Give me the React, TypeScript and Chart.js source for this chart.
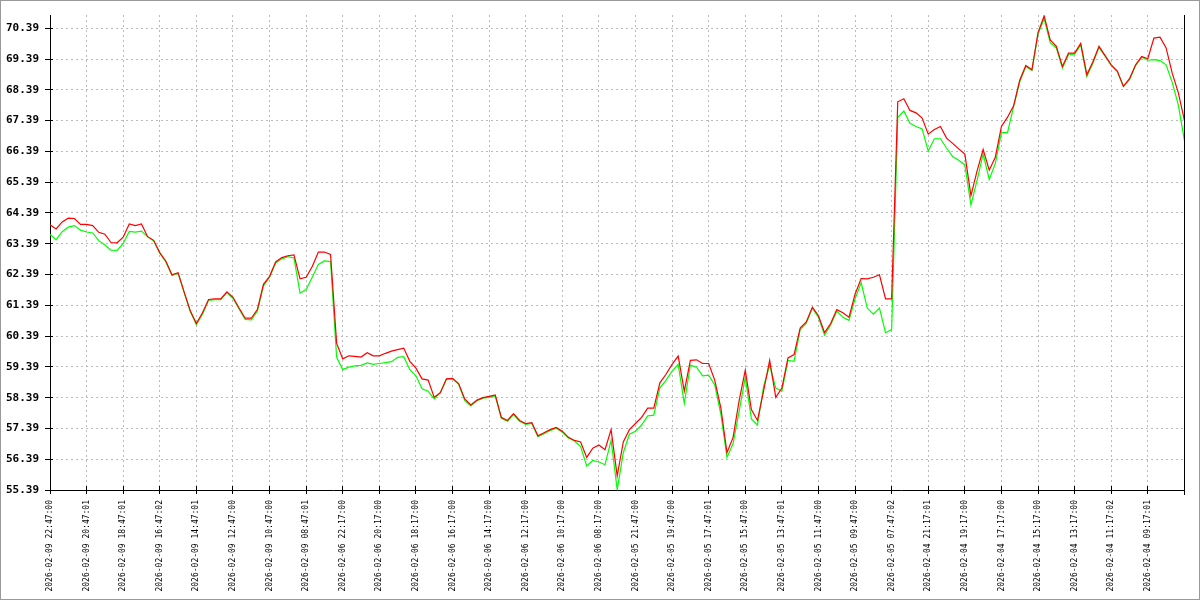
import React, { useEffect, useRef } from "react";
import { Chart, registerables } from "chart.js";

Chart.register(...registerables);

// X tick labels (one every POINTS_PER_TICK samples)
const xTickLabels: string[] = [
  "2026-02-09 22:47:00", "2026-02-09 20:47:01", "2026-02-09 18:47:01", "2026-02-09 16:47:02",
  "2026-02-09 14:47:01", "2026-02-09 12:47:00", "2026-02-09 10:47:00", "2026-02-09 08:47:01",
  "2026-02-06 22:17:00", "2026-02-06 20:17:00", "2026-02-06 18:17:00", "2026-02-06 16:17:00",
  "2026-02-06 14:17:00", "2026-02-06 12:17:00", "2026-02-06 10:17:00", "2026-02-06 08:17:00",
  "2026-02-05 21:47:00", "2026-02-05 19:47:00", "2026-02-05 17:47:01", "2026-02-05 15:47:00",
  "2026-02-05 13:47:01", "2026-02-05 11:47:00", "2026-02-05 09:47:00", "2026-02-05 07:47:02",
  "2026-02-04 21:17:01", "2026-02-04 19:17:00", "2026-02-04 17:17:00", "2026-02-04 15:17:00",
  "2026-02-04 13:17:00", "2026-02-04 11:17:02", "2026-02-04 09:17:01",
];
const POINTS_PER_TICK = 6;

const yTickValues: number[] = [
  55.39, 56.39, 57.39, 58.39, 59.39, 60.39, 61.39, 62.39,
  63.39, 64.39, 65.39, 66.39, 67.39, 68.39, 69.39, 70.39,
];
const Y_MIN = 55.39;
const Y_MAX = 70.82;

const redSeries: number[] = [
  64.01, 63.87, 64.10, 64.22, 64.21, 64.02, 64.02, 63.98, 63.76, 63.70,
  63.43, 63.42, 63.60, 64.03, 63.98, 64.03, 63.62, 63.50, 63.10, 62.82,
  62.38, 62.45, 61.82, 61.21, 60.80, 61.15, 61.58, 61.60, 61.60, 61.83,
  61.65, 61.30, 60.97, 60.97, 61.25, 62.07, 62.33, 62.80, 62.94, 63.00,
  63.03, 62.25, 62.30, 62.65, 63.12, 63.12, 63.04, 60.15, 59.65, 59.75,
  59.73, 59.71, 59.85, 59.75, 59.75, 59.83, 59.90, 59.95, 60.00, 59.57,
  59.35, 59.00, 58.96, 58.40, 58.55, 59.00, 59.02, 58.85, 58.35, 58.15,
  58.31, 58.39, 58.43, 58.48, 57.75, 57.65, 57.87, 57.65, 57.55, 57.58,
  57.15, 57.25, 57.35, 57.42, 57.30, 57.10, 57.00, 56.95, 56.45, 56.75,
  56.85, 56.70, 57.35, 55.85, 56.95, 57.35, 57.55, 57.75, 58.05, 58.05,
  58.87, 59.15, 59.47, 59.74, 58.60, 59.60, 59.62, 59.50, 59.50, 58.95,
  58.05, 56.60, 57.10, 58.30, 59.28, 58.00, 57.65, 58.60, 59.60, 58.40,
  58.70, 59.68, 59.79, 60.65, 60.85, 61.33, 61.05, 60.50, 60.80, 61.25,
  61.15, 61.00, 61.75, 62.26, 62.25, 62.30, 62.38, 61.60, 61.60, 68.00,
  68.10, 67.72, 67.64, 67.47, 66.95, 67.10, 67.20, 66.82, 66.65, 66.47,
  66.30, 64.95, 65.75, 66.45, 65.78, 66.20, 67.20, 67.50, 67.87, 68.70,
  69.18, 69.04, 70.25, 70.79, 70.01, 69.80, 69.15, 69.58, 69.58, 69.90,
  68.88, 69.30, 69.80, 69.50, 69.20, 69.00, 68.50, 68.75, 69.20, 69.47,
  69.40, 70.07, 70.10, 69.75, 68.93, 68.30, 67.40,
];

const greenSeries: number[] = [
  63.69, 63.52, 63.78, 63.93, 63.98, 63.83, 63.77, 63.74, 63.49, 63.35,
  63.18, 63.17, 63.40, 63.79, 63.77, 63.80, 63.62, 63.48, 63.08, 62.80,
  62.36, 62.43, 61.80, 61.19, 60.76, 61.10, 61.55, 61.57, 61.57, 61.80,
  61.62, 61.27, 60.93, 60.92, 61.20, 62.02, 62.30, 62.76, 62.90, 62.97,
  62.93, 61.79, 61.90, 62.30, 62.72, 62.83, 62.81, 59.70, 59.30, 59.38,
  59.42, 59.44, 59.52, 59.47, 59.50, 59.53, 59.56, 59.70, 59.72, 59.30,
  59.10, 58.68, 58.60, 58.35, 58.55, 58.98, 59.00, 58.82, 58.30, 58.12,
  58.29, 58.37, 58.40, 58.45, 57.72, 57.62, 57.84, 57.62, 57.52, 57.55,
  57.12, 57.22, 57.32, 57.40, 57.27, 57.08, 56.98, 56.80, 56.17, 56.35,
  56.30, 56.21, 57.00, 55.40, 56.60, 57.20, 57.30, 57.50, 57.80, 57.82,
  58.71, 58.95, 59.25, 59.47, 58.20, 59.45, 59.38, 59.10, 59.12, 58.80,
  57.85, 56.45, 56.90, 57.95, 59.05, 57.70, 57.50, 58.75, 59.45, 58.70,
  58.60, 59.60, 59.57, 60.60, 60.80, 61.30, 61.00, 60.42, 60.75, 61.20,
  61.00, 60.90, 61.60, 62.12, 61.30, 61.10, 61.30, 60.50, 60.60, 67.50,
  67.70, 67.30, 67.20, 67.12, 66.40, 66.80, 66.80, 66.50, 66.22, 66.10,
  65.95, 64.65, 65.45, 66.30, 65.48, 66.00, 67.00, 67.00, 67.85, 68.65,
  69.15, 69.02, 70.20, 70.70, 69.92, 69.75, 69.10, 69.53, 69.55, 69.85,
  68.82, 69.25, 69.77, 69.48, 69.18, 68.98, 68.50, 68.72, 69.18, 69.45,
  69.35, 69.37, 69.34, 69.20, 68.63, 67.90, 66.75,
];

const align = (v: number) => Math.round(v - 0.5) + 0.5;

export default function App() {
  const ref = useRef<HTMLCanvasElement>(null);

  useEffect(() => {
    const canvas = ref.current;
    if (!canvas) return;
    const xMax = xTickLabels.length * POINTS_PER_TICK;

    const framePlugin = {
      id: "frame",
      beforeDraw(chart: any) {
        const { ctx, width, height } = chart;
        ctx.save();
        ctx.fillStyle = "#ffffff";
        ctx.fillRect(0, 0, width, height);
        ctx.strokeStyle = "#999999";
        ctx.lineWidth = 1;
        ctx.strokeRect(0.5, 0.5, width - 1, height - 1);
        ctx.restore();
      },
      afterDraw(chart: any) {
        const { ctx, chartArea: a, scales } = chart;
        ctx.save();
        ctx.strokeStyle = "#000000";
        ctx.lineWidth = 1;
        ctx.beginPath();
        const r = align(a.right);
        ctx.moveTo(r, a.top);
        ctx.lineTo(r, a.bottom + 5);
        const b = a.bottom;
        scales.x.ticks.forEach((_t: any, i: number) => {
          const px = align(scales.x.getPixelForTick(i));
          ctx.moveTo(px, b - 4);
          ctx.lineTo(px, b);
        });
        const l = a.left;
        scales.y.ticks.forEach((_t: any, i: number) => {
          const py = align(scales.y.getPixelForTick(i));
          ctx.moveTo(l, py);
          ctx.lineTo(l + 3, py);
        });
        ctx.stroke();
        ctx.restore();
      },
    };

    const chart = new Chart(canvas, {
      type: "line",
      data: {
        datasets: [
          {
            label: "red",
            data: redSeries.map((y, i) => ({ x: i, y })),
            borderColor: "#ff0000",
            borderWidth: 1.2,
            pointRadius: 0,
            tension: 0,
            fill: false,
          },
          {
            label: "green",
            data: greenSeries.map((y, i) => ({ x: i, y })),
            borderColor: "#00ff00",
            borderWidth: 1.2,
            pointRadius: 0,
            tension: 0,
            fill: false,
          },
        ],
      },
      options: {
        responsive: false,
        devicePixelRatio: 1,
        animation: false,
        events: [],
        layout: { padding: { top: 15, right: 15, left: 0, bottom: 0 } },
        plugins: {
          legend: { display: false },
          tooltip: { enabled: false },
        },
        scales: {
          x: {
            type: "linear",
            min: 0,
            max: xMax,
            afterBuildTicks: (scale: any) => {
              const t: { value: number }[] = [];
              for (let k = 0; k <= xTickLabels.length; k++) t.push({ value: k * POINTS_PER_TICK });
              scale.ticks = t;
            },
            afterFit: (scale: any) => {
              scale.height = 110;
            },
            grid: {
              color: (c: any) =>
                c.tick && (c.tick.value === 0 || c.tick.value === xMax) ? "rgba(0,0,0,0)" : "#bbbbbb",
              lineWidth: 1,
              tickLength: 4,
              tickColor: "#000000",
            },
            border: { display: true, color: "#000000", width: 1, dash: [2, 3] },
            ticks: {
              autoSkip: false,
              maxRotation: 90,
              minRotation: 90,
              padding: 6,
              color: "#000000",
              font: { family: "'DejaVu Sans Mono', monospace", size: 8 },
              callback: (_v: any, idx: number) => xTickLabels[idx] ?? "",
            },
          },
          y: {
            type: "linear",
            position: "left",
            min: Y_MIN,
            max: Y_MAX,
            afterBuildTicks: (scale: any) => {
              scale.ticks = yTickValues.map((v) => ({ value: v }));
            },
            afterFit: (scale: any) => {
              scale.width = 50;
            },
            grid: {
              color: (c: any) => (c.tick && c.tick.value === Y_MIN ? "rgba(0,0,0,0)" : "#bbbbbb"),
              lineWidth: 1,
              tickLength: 5,
              tickColor: "#000000",
            },
            border: { display: true, color: "#000000", width: 1, dash: [2, 3] },
            ticks: {
              padding: 6,
              color: "#000000",
              font: { family: "'DejaVu Sans Mono', monospace", size: 11, weight: "bold" },
              callback: (v: any) => Number(v).toFixed(2),
            },
          },
        },
      },
      plugins: [framePlugin],
    } as any);

    return () => chart.destroy();
  }, []);

  return (
    <div style={{ position: "fixed", left: 0, top: 0, width: 1200, height: 600, background: "#fff" }}>
      <canvas ref={ref} width={1200} height={600} style={{ display: "block", width: 1200, height: 600 }} />
    </div>
  );
}
